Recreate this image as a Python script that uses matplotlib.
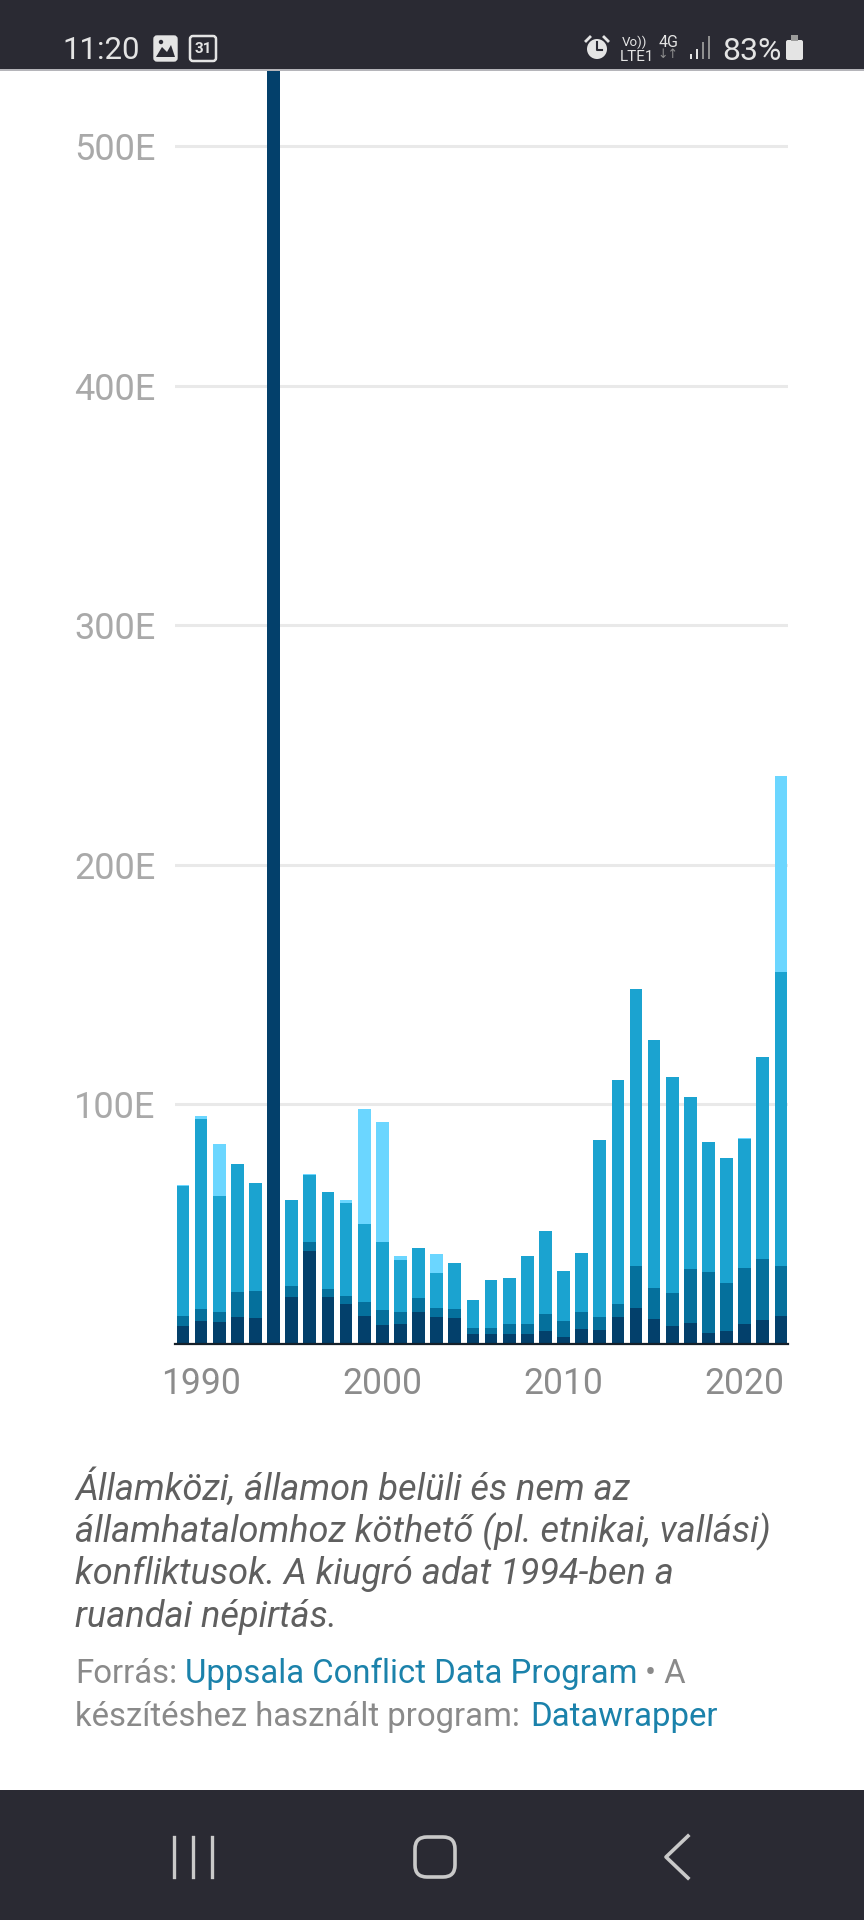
import matplotlib.pyplot as plt
from matplotlib.patches import FancyBboxPatch, Rectangle, Circle, Polygon

# Conflict deaths per year, stacked bars inside a phone screenshot

years = list(range(1989, 2023))

# darkest segment at the bottom, lightest on top (thousands)
dark = [7.4, 9.5, 9.2, 11.3, 10.7, 800, 19.6, 38.7, 19.6, 16.8, 11.8, 7.8, 8.2, 13.2, 11.3, 10.7, 4.3,
        4.1, 4.3, 4.1, 5.3, 3.1, 6.3, 5.9, 11.2, 14.9, 10.6, 7.6, 8.9, 4.6, 5.3, 8.3, 10, 11.6]
mid = [4.4, 5, 4, 10.5, 11.6, 0, 4.4, 3.9, 3.2, 3.4, 5.7, 6.4, 5, 6, 3.6, 3.8, 2.2,
       2.7, 4, 4.2, 7.2, 6.5, 6.9, 5.3, 5.6, 17.6, 12.7, 13.5, 22.3, 25.3, 20.3, 23.5, 25.6, 20.9]
blue = [54, 79.4, 48.4, 53.4, 44.9, 0, 36, 28.1, 40.5, 38.6, 32.7, 28.4, 22, 20.8, 14.7, 19.3, 12,
        19.8, 19.3, 28.5, 34.7, 20.9, 24.9, 73.9, 93.4, 115.8, 103.7, 90.3, 71.8, 54.6, 52.1, 53.7, 84.2, 122.6]
light = [0.7, 1.1, 22, 0, 0, 0, 0, 0.3, 0, 1.4, 48, 50, 1.4, 0, 8.1, 0, 0,
         0, 0, 0, 0, 0, 0, 0, 0, 0, 0, 0, 0, 0, 0, 0.5, 0, 81.9]

series = [dark, mid, blue, light]
series_colors = ["#03406b", "#05709c", "#1ba3d0", "#6bd6ff"]

y_ticks = [100, 200, 300, 400, 500]
y_tick_labels = ["100E", "200E", "300E", "400E", "500E"]
x_ticks = [1990, 2000, 2010, 2020]

W, H = 864, 1920
FONT = "Roboto"
BAR_DARK = "#2a2a33"
ICON = "#e4e4e4"
GREY = "#a9a9a9"
LINK = "#1b82ab"


def plot_bars(fig):
    left, right, top, bottom = 175, 788, 70, 1344
    ax = fig.add_axes([left / W, 1 - bottom / H, (right - left) / W, (bottom - top) / H])

    # 18.12 px per year, first bar centred at x=183
    ax.set_xlim(1989 - (183 - left) / 18.12, 1989 + (right - 183) / 18.12)
    ax.set_ylim(0, (bottom - top) / 2.396)

    base = [0] * len(years)
    for values, color in zip(series, series_colors):
        ax.bar(years, values, width=0.7, bottom=base, color=color, zorder=3)
        base = [b + v for b, v in zip(base, values)]

    for s in ["top", "left", "right"]:
        ax.spines[s].set_visible(False)
    ax.spines["bottom"].set_color("#15202a")
    ax.spines["bottom"].set_linewidth(1.6)
    ax.spines["bottom"].set_zorder(4)

    ax.set_yticks(y_ticks)
    ax.set_yticklabels(y_tick_labels, family=FONT, fontsize=26, color=GREY)
    ax.yaxis.grid(True, color="#e9e9e9", linewidth=2.2, zorder=1)
    ax.tick_params(axis="y", length=0, pad=14)

    ax.set_xticks(x_ticks)
    ax.set_xticklabels([str(x) for x in x_ticks], family=FONT, fontsize=25.6, color="#8c8c8c")
    ax.tick_params(axis="x", length=0, pad=16)
    return ax


def put(ax, x, y, s, size, color, style="normal"):
    ax.text(x, y, s, family=FONT, fontsize=size, color=color, style=style, ha="left", va="baseline")


def plot_caption(ov):
    caption = ["Államközi, államon belüli és nem az",
               "államhatalomhoz köthető (pl. etnikai, vallási)",
               "konfliktusok. A kiugró adat 1994-ben a",
               "ruandai népirtás."]
    for line, y in zip(caption, [1500, 1542, 1584, 1627]):
        put(ov, 75, y, line, 26, "#5f5f5f", style="italic")

    put(ov, 75, 1683, "Forrás:", 23.7, "#8a8a8a")
    put(ov, 185, 1683, "Uppsala Conflict Data Program", 23.7, LINK)
    put(ov, 645, 1683, "• A", 23.7, "#8a8a8a")
    put(ov, 75, 1726, "készítéshez használt program:", 23.7, "#8a8a8a")
    put(ov, 530, 1726, "Datawrapper", 23.7, LINK)


def plot_phone_bars(ov):
    ov.add_patch(Rectangle((0, 0), W, 69, color=BAR_DARK, lw=0))
    ov.add_patch(Rectangle((0, 69), W, 1.5, color="#b5b5ba", lw=0))
    ov.add_patch(Rectangle((0, 1790), W, 130, color=BAR_DARK, lw=0))

    # status bar left
    put(ov, 62, 59, "11:20", 22.5, ICON)
    ov.add_patch(FancyBboxPatch((155, 37), 21, 23, boxstyle="round,pad=1,rounding_size=3", fc=ICON, ec=ICON))
    ov.add_patch(Polygon([[156, 57], [162, 47], [167, 52], [171, 45], [175, 57]], color=BAR_DARK, lw=0))
    ov.add_patch(Circle((161, 42), 2.2, color=BAR_DARK, lw=0))
    ov.add_patch(FancyBboxPatch((190, 36), 26, 25, boxstyle="round,pad=0,rounding_size=3", fc="none", ec=ICON, lw=1.8))
    ov.text(203, 49, "31", family=FONT, fontsize=11, weight="bold", color=ICON, ha="center", va="center")

    # status bar right
    ov.add_patch(Circle((597, 49), 10, fc=ICON, lw=0))
    ov.plot([597, 597, 602], [42, 50, 50], color=BAR_DARK, lw=1.5)
    ov.plot([586, 590], [41, 37], color=ICON, lw=2)
    ov.plot([604, 608], [37, 41], color=ICON, lw=2)
    put(ov, 622, 46, "Vo))", 9.5, ICON)
    put(ov, 620, 61, "LTE1", 11, ICON)
    put(ov, 659, 47, "4G", 11.5, ICON)
    ov.text(668, 55, "↓↑", family="DejaVu Sans", fontsize=9, color="#8f8f8f", ha="center", va="center")
    for x, y0, c in zip([690, 696, 702, 708], [54, 49, 42, 36], [ICON, ICON, "#8f8f8f", "#8f8f8f"]):
        ov.add_patch(Rectangle((x, y0), 2.4, 59 - y0, color=c, lw=0))
    put(ov, 722, 60, "83%", 23, ICON)
    ov.add_patch(FancyBboxPatch((786, 40), 17, 20, boxstyle="round,pad=0,rounding_size=2", color=ICON, lw=0))
    ov.add_patch(Rectangle((791, 35), 7, 6, color="#9a9a9a", lw=0))

    # navigation bar
    for x in [174, 193, 212]:
        ov.plot([x, x], [1837, 1877], color="#c9c9c9", lw=2.4)
    ov.add_patch(FancyBboxPatch((415, 1837), 40, 40, boxstyle="round,pad=0,rounding_size=12",
                                fc="none", ec="#c9c9c9", lw=2.6))
    ov.plot([688, 666, 688], [1836, 1857, 1878], color="#c9c9c9", lw=2.6)


def main():
    fig = plt.figure(figsize=(W / 100, H / 100), dpi=100, facecolor="white")
    plot_bars(fig)

    # overlay in screen pixels for the text and phone chrome
    ov = fig.add_axes([0, 0, 1, 1], zorder=5)
    ov.set_xlim(0, W)
    ov.set_ylim(H, 0)
    ov.axis("off")
    plot_caption(ov)
    plot_phone_bars(ov)

    fig.savefig("out.png", dpi=100)


if __name__ == "__main__":
    main()
